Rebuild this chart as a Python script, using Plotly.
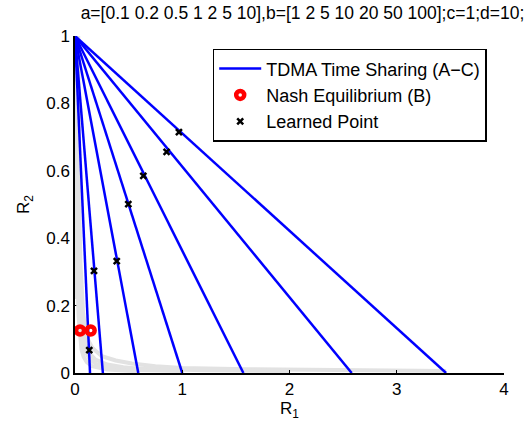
import plotly.graph_objects as go

# Data
title_text = "a=[0.1 0.2 0.5 1 2 5 10],b=[1 2 5 10 20 50 100];c=1;d=10;"
tdma_x_intercepts = [0.14, 0.26, 0.59, 1.0, 1.57, 2.58, 3.46]
tdma_y_intercept = 1.0

nash_x = [0.047, 0.146]
nash_y = [0.126, 0.126]

learned_x = [0.177, 0.389, 0.497, 0.637, 0.854, 0.969, 0.133]
learned_y = [0.303, 0.332, 0.501, 0.585, 0.656, 0.715, 0.068]

# Gray boundary curves
gray_curves_x = [
    [0.0, 0.0, 0.003, 0.008, 0.015],
    [0.03, 0.032, 0.036, 0.042, 0.05, 0.062, 0.075, 0.093, 0.12, 0.16, 0.25, 0.38, 0.53, 0.75, 1.0, 1.6, 2.6, 3.46],
    [0.025, 0.027, 0.03, 0.035, 0.042, 0.05, 0.06, 0.075, 0.1, 0.14, 0.19, 0.3, 0.45, 0.6, 1.2, 2.0],
    [0.02, 0.021, 0.023, 0.027, 0.033, 0.04, 0.05, 0.065, 0.09, 0.14, 0.2, 0.3, 0.5, 1.0],
    [0.015, 0.016, 0.018, 0.021, 0.026, 0.033, 0.045, 0.06, 0.08, 0.11, 0.16, 0.3, 0.6],
]
gray_curves_y = [
    [1.0, 0.55, 0.4, 0.3, 0.22],
    [1.0, 0.8, 0.6, 0.45, 0.33, 0.24, 0.18, 0.135, 0.1, 0.075, 0.05, 0.037, 0.028, 0.02, 0.015, 0.011, 0.008, 0.006],
    [1.0, 0.8, 0.6, 0.42, 0.3, 0.21, 0.16, 0.12, 0.085, 0.057, 0.04, 0.025, 0.017, 0.013, 0.008, 0.006],
    [1.0, 0.8, 0.6, 0.42, 0.3, 0.21, 0.15, 0.1, 0.068, 0.04, 0.026, 0.017, 0.01, 0.006],
    [0.9, 0.7, 0.5, 0.36, 0.25, 0.17, 0.11, 0.07, 0.048, 0.032, 0.02, 0.01, 0.005],
]

x_ticks = [0, 1, 2, 3, 4]
y_ticks = [0, 0.2, 0.4, 0.6, 0.8, 1]
y_tick_labels = ["0", "0.2", "0.4", "0.6", "0.8", "1"]

fig = go.Figure()

for gx, gy in zip(gray_curves_x, gray_curves_y):
    fig.add_trace(go.Scatter(x=gx, y=gy, mode="lines", line=dict(color="#e2e2e2", width=4),
                             showlegend=False, hoverinfo="skip", cliponaxis=False))

for i, xi in enumerate(tdma_x_intercepts):
    fig.add_trace(go.Scatter(x=[0, xi], y=[tdma_y_intercept, 0], mode="lines",
                             line=dict(color="#0000ff", width=2.5),
                             name="TDMA Time Sharing (A\u2212C)", showlegend=(i == 0)))

fig.add_trace(go.Scatter(x=nash_x, y=nash_y, mode="markers",
                         marker=dict(symbol="circle-open", size=8, color="#ff0000", line=dict(width=4.5, color="#ff0000")),
                         name="Nash Equilibrium (B)"))

fig.add_trace(go.Scatter(x=learned_x, y=learned_y, mode="markers",
                         marker=dict(symbol="x-thin", size=6, color="black", line=dict(width=2.5, color="black")),
                         name="Learned Point"))

font_family = "Liberation Sans, Arial, sans-serif"

fig.update_layout(
    width=527, height=422,
    margin=dict(l=75, r=23, t=36, b=49),
    paper_bgcolor="white", plot_bgcolor="white",
    font=dict(family=font_family, size=17, color="black"),
    title=dict(text=title_text, x=0.574, xanchor="center", y=0.985, yanchor="top",
               font=dict(size=17.5, family=font_family), automargin=False),
    showlegend=True,
    legend=dict(x=0.321, y=0.962, xanchor="left", yanchor="top",
                bgcolor="white", bordercolor="black", borderwidth=1.5,
                font=dict(size=18, family=font_family), tracegroupgap=0,
                itemwidth=42),
    xaxis=dict(range=[0, 4], tickvals=x_ticks, showgrid=False, zeroline=False,
               showline=True, linecolor="black", linewidth=1.5, mirror=False,
               ticks="inside", ticklen=3, tickcolor="black", automargin=False,
               tickfont=dict(size=17),
               title=dict(text="R<sub>1</sub>", standoff=0, font=dict(size=17))),
    yaxis=dict(range=[0, 1], tickvals=y_ticks, ticktext=y_tick_labels, showgrid=False, zeroline=False,
               showline=True, linecolor="black", linewidth=1.5, mirror=False,
               ticks="inside", ticklen=3, tickcolor="black", automargin=False,
               layer="below traces",
               tickfont=dict(size=17),
               title=dict(text="R<sub>2</sub>", standoff=12, font=dict(size=17))),
)

fig.write_html("out.html", config={"displayModeBar": False},
               post_script="document.body.style.margin='0';")
